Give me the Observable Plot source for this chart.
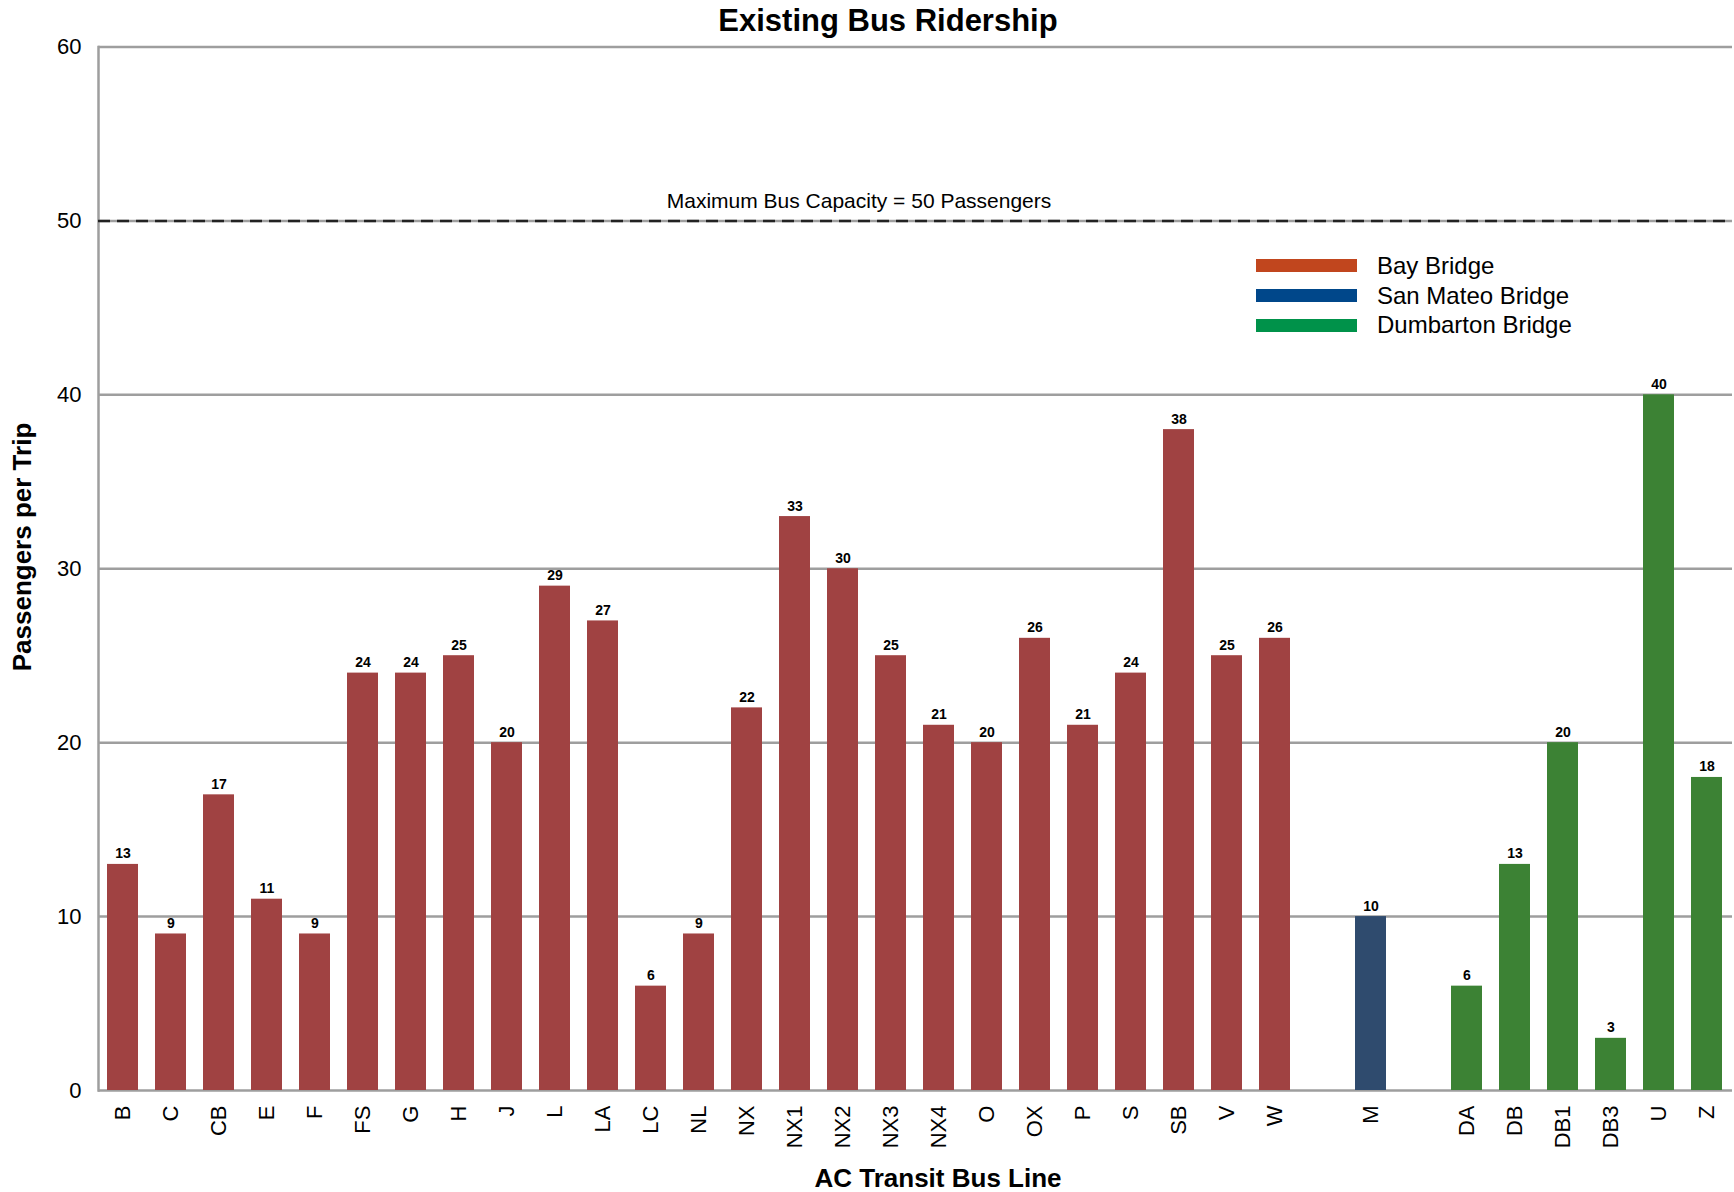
<!DOCTYPE html>
<html>
<head>
<meta charset="utf-8">
<script src="https://cdn.jsdelivr.net/npm/d3@7"></script>
<script src="https://cdn.jsdelivr.net/npm/@observablehq/plot@0.6"></script>
<style>
  body { margin: 0; background: #fff; font-family: "Liberation Sans", Arial, sans-serif; }
  #wrap { position: relative; width: 1734px; height: 1192px; overflow: hidden; background: #fff; }
  #title { position: absolute; z-index: 2; left: 888px; top: 21px; transform: translate(-50%, -50%); font-size: 31px; font-weight: bold; white-space: nowrap; color: #000; }
  #chart { position: absolute; z-index: 1; left: 0; top: 30px; }
  #ytitle { position: absolute; z-index: 2; left: 22px; top: 547px; transform: translate(-50%, -50%) rotate(-90deg); font-size: 26px; font-weight: bold; white-space: nowrap; }
  #xtitle { position: absolute; z-index: 2; left: 938px; top: 1178px; transform: translate(-50%, -50%); font-size: 26px; font-weight: bold; white-space: nowrap; }
  #legend { position: absolute; z-index: 2; left: 1256px; top: 251px; }
  .row { display: flex; align-items: center; height: 29.7px; }
  .sw { width: 101px; height: 13px; margin-right: 20px; }
  .lt { font-size: 24px; line-height: 29.7px; white-space: nowrap; color: #000; }
</style>
</head>
<body>
<div id="wrap">
  <div id="chart"></div>
  <div id="title"></div>
  <div id="ytitle"></div>
  <div id="xtitle"></div>
  <div id="legend"></div>
</div>
<script>
// ---- data ----
const bayLines = ["B","C","CB","E","F","FS","G","H","J","L","LA","LC","NL","NX","NX1","NX2","NX3","NX4","O","OX","P","S","SB","V","W"];
const bayValues = [13,9,17,11,9,24,24,25,20,29,27,6,9,22,33,30,25,21,20,26,21,24,38,25,26];
const sanMateoLines = ["M"];
const sanMateoValues = [10];
const dumbartonLines = ["DA","DB","DB1","DB3","U","Z"];
const dumbartonValues = [6,13,20,3,40,18];
const groups = ["Bay Bridge","San Mateo Bridge","Dumbarton Bridge"];
const yTicks = [0,10,20,30,40,50,60];
const capacity = 50;
const capacityLabel = "Maximum Bus Capacity = 50 Passengers";
const titleText = "Existing Bus Ridership";
const xTitle = "AC Transit Bus Line";
const yTitle = "Passengers per Trip";

// ---- styles ----
const barColors = ["#A04242", "#2F4B6E", "#3C8234"];
const legendColors = ["#C1461E", "#00478A", "#00924A"];
const gridColor = "#9e9e9e";

const data = [
  ...bayLines.map((l, i) => ({line: l, value: bayValues[i], group: groups[0]})),
  ...sanMateoLines.map((l, i) => ({line: l, value: sanMateoValues[i], group: groups[1]})),
  ...dumbartonLines.map((l, i) => ({line: l, value: dumbartonValues[i], group: groups[2]}))
];
const domain = [...bayLines, "gap1", ...sanMateoLines, "gap2", ...dumbartonLines];

const chart = Plot.plot({
  width: 1734,
  height: 1162,
  marginTop: 16.5,
  marginBottom: 102,
  marginLeft: 98,
  marginRight: 2,
  style: { fontFamily: '"Liberation Sans", Arial, sans-serif', color: "#000", background: "transparent", overflow: "visible" },
  x: { type: "band", domain, paddingInner: 0.35, paddingOuter: 0.175, axis: null },
  y: { domain: [0, 60], axis: null },
  color: { domain: groups, range: barColors },
  marks: [
    Plot.ruleY(yTicks, { stroke: gridColor, strokeWidth: 2.5 }),
    Plot.frame({ anchor: "left", stroke: gridColor, strokeWidth: 2.5 }),
    Plot.barY(data, { x: "line", y: "value", fill: "group" }),
    Plot.text(data, { x: "line", y: "value", text: d => String(d.value), dy: -6, lineAnchor: "bottom", fontSize: 14, fontWeight: "bold", fill: "#000" }),
    Plot.ruleY([capacity], { stroke: "#222", strokeWidth: 2.5, strokeDasharray: "12,7" }),
    Plot.text([capacity], { x: () => "NX2", y: d => d, text: () => capacityLabel, dx: 16, dy: -13, lineAnchor: "bottom", fontSize: 21, fill: "#000" }),
    Plot.axisX({ domain, tickSize: 0, tickRotate: -90, tickPadding: 15, fontSize: 22, tickFormat: d => d.startsWith("gap") ? "" : d, label: null }),
    Plot.axisY({ ticks: yTicks, tickSize: 0, tickPadding: 17, fontSize: 22, label: null })
  ]
});
document.getElementById("chart").append(chart);

document.getElementById("title").textContent = titleText;
document.getElementById("xtitle").textContent = xTitle;
document.getElementById("ytitle").textContent = yTitle;
const leg = document.getElementById("legend");
groups.forEach((g, i) => {
  const row = document.createElement("div");
  row.className = "row";
  const sw = document.createElement("div");
  sw.className = "sw";
  sw.style.background = legendColors[i];
  const t = document.createElement("span");
  t.className = "lt";
  t.textContent = g;
  row.append(sw, t);
  leg.append(row);
});
</script>
</body>
</html>
